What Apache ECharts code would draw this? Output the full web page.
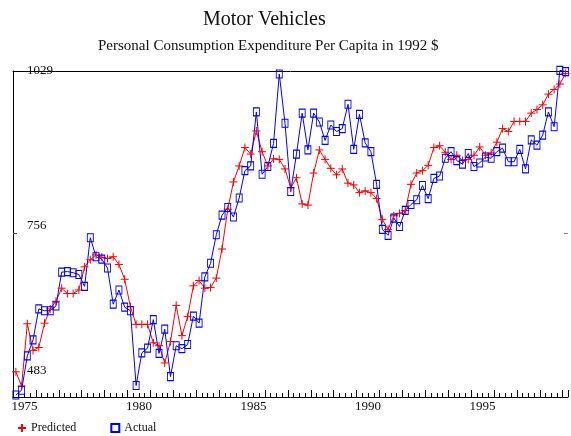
<!DOCTYPE html>
<html>
<head>
<meta charset="utf-8">
<script src="https://cdn.jsdelivr.net/npm/echarts@6/dist/echarts.min.js"></script>
<style>
  html, body { margin: 0; padding: 0; background: #fff; }
  #chart_box { width: 571px; height: 436px; }
</style>
</head>
<body>
<div id="chart_box"></div>
<script>
// quarterly data, 1975 Q1 .. 1999 Q1
const firstYear = 1975;
const predicted = [522, 498, 603, 558, 563, 604, 628, 641, 663, 654,
  654, 660, 699, 711, 719, 715, 713, 716, 703, 678,
  632, 602, 602, 602, 571, 566, 537, 573, 634, 583,
  615, 667, 676, 663, 664, 680, 729, 796, 842, 869,
  900, 889, 928, 893, 869, 881, 880, 864, 832, 849,
  805, 803, 857, 896, 880, 865, 854, 864, 840, 837,
  824, 827, 824, 814, 779, 762, 785, 789, 794, 838,
  857, 861, 870, 900, 903, 892, 880, 887, 878, 880,
  887, 901, 887, 891, 909, 932, 927, 944, 944, 944,
  958, 964, 972, 990, 998, 1007, 1025];
const actual = [483, 491, 549, 576, 628, 625, 625, 633, 690, 691,
  689, 686, 666, 748, 716, 712, 697, 636, 660, 631,
  625, 499, 554, 562, 610, 553, 594, 514, 566, 561,
  568, 616, 604, 682, 705, 753, 786, 799, 783, 815,
  861, 869, 960, 855, 868, 907, 1024, 941, 826, 889,
  958, 896, 958, 943, 912, 938, 927, 932, 973, 897,
  956, 908, 893, 838, 762, 752, 781, 767, 794, 804,
  812, 836, 814, 848, 852, 882, 893, 878, 872, 890,
  868, 874, 884, 882, 893, 899, 876, 876, 897, 864,
  913, 904, 921, 960, 935, 1030, 1028];
const yTicks = [483, 756, 1029];
const xLabelYears = [1975, 1980, 1985, 1990, 1995];

// each quarter is plotted at its middle
const quarters = actual.map((v, i) => firstYear + Math.floor(i / 4) + ((i % 4) + 0.5) / 4);

const serif = "'Liberation Serif', 'DejaVu Serif', serif";
const plus = 'path://M0,5H10M5,0V10';

let myChart = echarts.init(document.getElementById("chart_box"));
myChart.setOption({
  animation: false,
  title: [
    { text: "Motor Vehicles", left: 198, top: 5,
      textStyle: { fontFamily: serif, fontSize: 20, fontWeight: 'normal', color: '#111' } },
    { text: "Personal Consumption Expenditure Per Capita in 1992 $", left: 93, top: 34,
      textStyle: { fontFamily: serif, fontSize: 15, fontWeight: 'normal', color: '#111' } }
  ],
  legend: {
    left: 12, top: 417, itemWidth: 8, itemHeight: 8, itemGap: 34,
    textStyle: { fontFamily: serif, fontSize: 12, color: '#111' },
    data: [
      { name: 'Predicted', icon: plus },
      { name: 'Actual', icon: 'rect' }
    ]
  },
  grid: { left: 13, right: 0, top: 71, bottom: 39 },
  xAxis: [
    {
      type: 'value', min: 1975, max: 1999.23, interval: 1,
      axisLine: { lineStyle: { color: '#000', width: 1 } },
      axisTick: { inside: true, length: 7, lineStyle: { color: '#000' } },
      minorTick: { show: true, splitNumber: 4, length: 4, lineStyle: { color: '#000' } },
      splitLine: { show: false },
      axisLabel: {
        margin: 3, color: '#111', fontFamily: serif, fontSize: 13,
        formatter: v => xLabelYears.indexOf(v) >= 0 ? '{a|' + v + '}' : '',
        rich: { a: { padding: [0, 0, 0, 23], fontFamily: serif, fontSize: 13, color: '#111' } }
      }
    },
    {
      type: 'value', position: 'top', min: 1975, max: 1999.23,
      axisLine: { show: true, lineStyle: { color: '#000', width: 1 } },
      axisTick: { show: false }, axisLabel: { show: false }, splitLine: { show: false }
    }
  ],
  yAxis: [
    {
      type: 'value', min: 479.6, max: 1029,
      axisLine: { show: true, lineStyle: { color: '#000', width: 1 } },
      axisTick: { show: true, inside: true, length: 4, customValues: [756], lineStyle: { color: '#555' } },
      splitLine: { show: false },
      axisLabel: {
        inside: true, margin: 14, customValues: yTicks, color: '#111',
        fontFamily: serif, fontSize: 13,
        formatter: v => v === 483 ? '{lo|483}' : (v === 756 ? '{mid|756}' : '{hi|' + v + '}'),
        rich: {
          lo: { padding: [0, 0, 48, 0], fontFamily: serif, fontSize: 13, color: '#111' },
          mid: { padding: [0, 0, 14, 0], fontFamily: serif, fontSize: 13, color: '#111' },
          hi: { fontFamily: serif, fontSize: 13, color: '#111' }
        }
      }
    },
    {
      type: 'value', position: 'right', min: 479.6, max: 1029,
      axisLine: { show: false },
      axisTick: { show: true, inside: true, length: 4, customValues: [756], lineStyle: { color: '#888' } },
      axisLabel: { show: false }, splitLine: { show: false }
    }
  ],
  series: [
    {
      name: 'Predicted', type: 'line', clip: false,
      data: quarters.map((x, i) => [x, predicted[i]]),
      symbol: plus, symbolSize: 8,
      lineStyle: { color: '#ff0000', width: 1 },
      itemStyle: { color: '#ff0000', borderColor: '#ff0000', borderWidth: 1 },
      emphasis: { disabled: true }
    },
    {
      name: 'Actual', type: 'line', clip: false,
      data: quarters.map((x, i) => [x, actual[i]]),
      symbol: 'rect', symbolSize: [6, 8],
      lineStyle: { color: '#0000ff', width: 1 },
      itemStyle: { color: 'rgba(255,255,255,0)', borderColor: '#0000ff', borderWidth: 1 },
      emphasis: { disabled: true }
    }
  ]
});
</script>
</body>
</html>
